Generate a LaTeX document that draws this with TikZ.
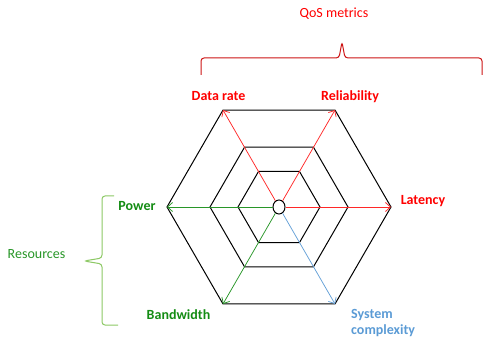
\documentclass[tikz,border=0pt]{standalone}
\usepackage{fontspec}
\setmainfont{Carlito}
\usetikzlibrary{calc,shapes.geometric,arrows.meta}
\definecolor{qosred}{RGB}{255,0,0}
\definecolor{bracered}{RGB}{205,20,20}
\definecolor{linered}{RGB}{255,40,40}
\definecolor{resgreen}{RGB}{20,140,20}
\definecolor{txtgreen}{RGB}{40,150,40}
\definecolor{linegreen}{RGB}{40,150,40}
\definecolor{bracegreen}{RGB}{140,200,100}
\definecolor{sysblue}{RGB}{91,155,213}
\definecolor{lineblue}{RGB}{100,160,215}
\begin{document}
\begin{tikzpicture}[x=1pt,y=-1pt,
    lbl/.style={font=\fontsize{14}{16}\selectfont\bfseries, inner sep=0pt},
    txt/.style={font=\fontsize{14}{16}\selectfont, inner sep=0pt},
    axis/.style={->, >={Straight Barb[length=5pt,width=9pt]}, line width=0.75pt}]
  \useasboundingbox (0,0) rectangle (483,337);
  \coordinate (ctr) at (279,207);
  % the three hexagons
  \foreach \r in {41,69,112}
    \draw[line width=1pt] ($(ctr)+(0:\r pt)$)
      \foreach \a in {60,120,...,300} { -- ($(ctr)+(\a:\r pt)$) } -- cycle;
  % outer corners
  \foreach \a [count=\i] in {0,60,...,300}
    \coordinate (v\i) at ($(ctr)+(\a:112pt)$);
  \node (hub) [draw, ellipse, line width=1pt, minimum width=12pt, minimum height=14pt, inner sep=0pt] at (ctr) {};

  \draw[axis, linered] (hub) -- (v1);
  \draw[axis, linered] (hub) -- (v2);
  \draw[axis, linered] (hub) -- (v3);
  \draw[axis, linegreen] (hub) -- (v4);
  \draw[axis, linegreen] (hub) -- (v5);
  \draw[axis, lineblue] (hub) -- (v6);

  \node (lat) [lbl, text=qosred] at (423,201) {Latency};
  \node (rel) [lbl, text=qosred] at (350,96.5) {Reliability};
  \node (rate) [lbl, text=qosred] at (218.5,96.5) {Data rate};
  \node (pow) [lbl, text=resgreen] at (137,206.5) {Power};
  \node (bw) [lbl, text=resgreen] at (178.5,315) {Bandwidth};
  \node (sys) [lbl, text=sysblue, align=left, anchor=north west] at (351,309) {System\\complexity};

  % braces
  \draw[bracered, line width=1pt, rounded corners=3pt] (201,75) -- (201,58) -- (339,58) -- (342,42) -- (345,58) -- (482,58) -- (482,75);
  \node (qos) [txt, text=qosred] at (334,14) {QoS metrics};
  \draw[bracegreen, line width=1pt, rounded corners=3pt] (114,196) -- (102,196) -- (102,258) -- (84,261) -- (102,264) -- (102,325) -- (118,325);
  \node (res) [txt, text=txtgreen] at (36.5,254) {Resources};
\end{tikzpicture}
\end{document}
